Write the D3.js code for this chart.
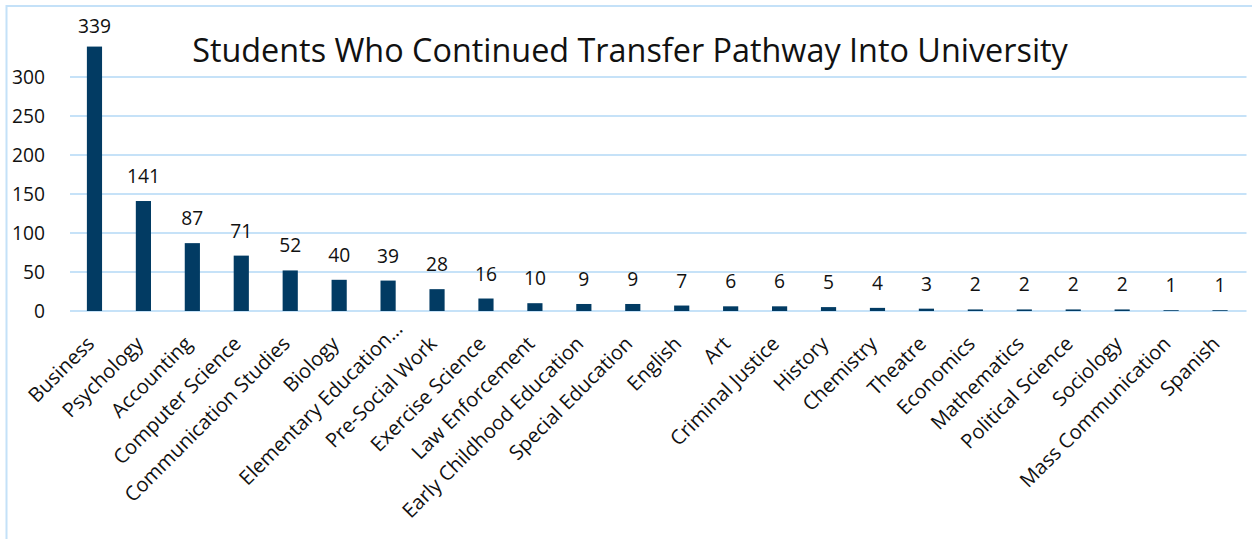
<!DOCTYPE html>
<html><head><meta charset="utf-8">
<script src="https://cdn.jsdelivr.net/npm/d3@7"></script>
<style>body{margin:0;background:#fff;}svg{display:block;font-family:"Open Sans",sans-serif;}</style>
</head><body>
<svg id="chart" width="1252" height="539"></svg>
<script>
const categories = ["Business","Psychology","Accounting","Computer Science","Communication Studies","Biology","Elementary Education…","Pre-Social Work","Exercise Science","Law Enforcement","Early Childhood Education","Special Education","English","Art","Criminal Justice","History","Chemistry","Theatre","Economics","Mathematics","Political Science","Sociology","Mass Communication","Spanish"];
const values = [339,141,87,71,52,40,39,28,16,10,9,9,7,6,6,5,4,3,2,2,2,2,1,1];
const yTicks = [0,50,100,150,200,250,300];
const title = "Students Who Continued Transfer Pathway Into University";

const svg = d3.select("#chart");
const left = 70, right = 1244.5, y0 = 311;
const x = d3.scaleBand().domain(categories).range([left, right]).paddingInner(0.69).paddingOuter(0.345);
const y = d3.scaleLinear().domain([0, 300]).range([y0, 77]);

// helper to fit font size to a target width
function fitSize(text, target, base) {
  const t = svg.append("text").attr("font-size", base).text(text);
  const w = t.node().getComputedTextLength();
  t.remove();
  return base * target / w;
}

// border
svg.append("path").attr("d", "M6.5,539 V6 H1252").attr("fill","none").attr("stroke","#c4e1f8").attr("stroke-width",2);

// gridlines
svg.append("g").selectAll("line").data(yTicks).join("line")
  .attr("x1", left).attr("x2", right + 2)
  .attr("y1", d => y(d)).attr("y2", d => y(d))
  .attr("stroke", "#c6e2f8").attr("stroke-width", 2);

const numSize = fitSize("300", 33, 20);

// y tick labels
svg.append("g").selectAll("text").data(yTicks).join("text")
  .attr("x", 45).attr("y", d => y(d)).attr("dy", "0.36em")
  .attr("text-anchor", "end").attr("font-size", numSize).attr("fill", "#111")
  .text(d => d);

// bars
svg.append("g").selectAll("rect").data(values).join("rect")
  .attr("x", (d,i) => x(categories[i])).attr("width", x.bandwidth())
  .attr("y", d => y(d)).attr("height", d => y0 - y(d))
  .attr("fill", "#023b63");

// value labels
svg.append("g").selectAll("text").data(values).join("text")
  .attr("x", (d,i) => x(categories[i]) + x.bandwidth()/2)
  .attr("y", d => Math.max(y(d) - 18, 33))
  .attr("text-anchor", "middle").attr("font-size", numSize).attr("fill", "#111")
  .text(d => d);

// category labels
const catSize = fitSize("Communication Studies", 224, 18);
svg.append("g").selectAll("text").data(categories).join("text")
  .attr("transform", d => {
    const shift = d.endsWith("…") ? 21 : 0;
    const cx = x(d) + x.bandwidth()/2 + 1 + shift * 0.707;
    const cy = 345 - shift * 0.707;
    return `translate(${cx},${cy}) rotate(-45)`;
  })
  .attr("text-anchor", "end").attr("font-size", catSize).attr("fill", "#111")
  .text(d => d);

// title
const titleSize = fitSize(title, 876, 30);
svg.append("text").attr("x", 630).attr("y", 62).attr("text-anchor", "middle")
  .attr("font-size", titleSize).attr("fill", "#111").text(title);
</script>
</body></html>
